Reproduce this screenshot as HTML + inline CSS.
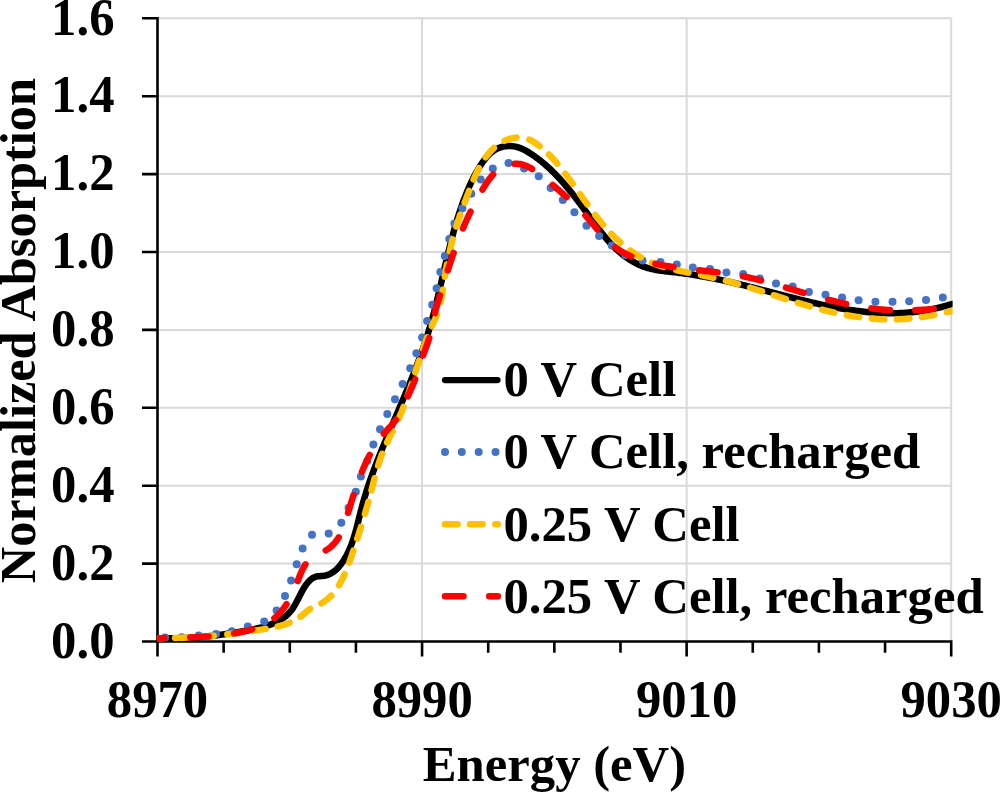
<!DOCTYPE html>
<html><head><meta charset="utf-8"><style>
html,body{margin:0;padding:0;background:#fff;width:1000px;height:792px;overflow:hidden}
svg{display:block}
</style></head><body>
<svg width="1000" height="792" viewBox="0 0 1000 792">
<path d="M157.5,563.60H951.2 M157.5,485.70H951.2 M157.5,407.80H951.2 M157.5,329.90H951.2 M157.5,252.00H951.2 M157.5,174.10H951.2 M157.5,96.20H951.2 M157.5,18.30H951.2 M422.07,18.3V641.5 M686.63,18.3V641.5 M951.20,18.3V641.5" stroke="#d9d9d9" stroke-width="2" fill="none"/>
<path d="M157.50,17.0V641.5 M142,641.50H952.5 M142,641.50H157.5 M142,563.60H157.5 M142,485.70H157.5 M142,407.80H157.5 M142,329.90H157.5 M142,252.00H157.5 M142,174.10H157.5 M142,96.20H157.5 M142,18.30H157.5 M157.50,641.5V656.5 M223.64,641.5V652.8 M289.78,641.5V652.8 M355.93,641.5V652.8 M422.07,641.5V656.5 M488.21,641.5V652.8 M554.35,641.5V652.8 M620.49,641.5V652.8 M686.63,641.5V656.5 M752.77,641.5V652.8 M818.92,641.5V652.8 M885.06,641.5V652.8 M951.20,641.5V656.5" stroke="#000" stroke-width="2.6" fill="none"/>
<defs><clipPath id="pc"><rect x="157.3" y="0" width="795.3" height="792"/></clipPath></defs>
<g clip-path="url(#pc)">
<path d="M157.41,638.07 L158.92,638.13 L160.43,638.18 L161.94,638.23 L163.44,638.27 L164.94,638.30 L166.43,638.32 L167.92,638.34 L169.41,638.35 L170.89,638.36 L172.37,638.36 L173.85,638.35 L175.32,638.33 L176.79,638.31 L178.26,638.28 L179.73,638.24 L181.19,638.20 L182.65,638.15 L184.11,638.10 L185.56,638.04 L187.02,637.97 L188.47,637.90 L189.92,637.82 L191.36,637.73 L192.81,637.64 L194.25,637.54 L195.70,637.44 L197.14,637.33 L198.58,637.21 L200.02,637.09 L201.46,636.97 L202.89,636.84 L204.33,636.70 L205.77,636.56 L207.20,636.41 L208.64,636.25 L210.07,636.10 L211.51,635.93 L212.94,635.76 L214.38,635.59 L215.81,635.41 L217.25,635.22 L218.69,635.04 L220.12,634.84 L221.56,634.64 L223.00,634.44 L224.44,634.23 L225.88,634.02 L227.33,633.80 L228.77,633.58 L230.21,633.35 L231.66,633.12 L233.11,632.88 L234.56,632.64 L236.01,632.40 L237.47,632.15 L238.92,631.90 L240.38,631.64 L241.85,631.38 L243.31,631.12 L244.78,630.85 L246.25,630.58 L247.72,630.30 L249.20,630.02 L250.67,629.73 L252.15,629.44 L253.62,629.14 L255.10,628.83 L256.57,628.51 L258.03,628.17 L259.49,627.83 L260.95,627.46 L262.39,627.09 L263.83,626.69 L265.25,626.28 L266.67,625.85 L268.07,625.40 L269.45,624.92 L270.83,624.43 L272.18,623.90 L273.52,623.35 L274.84,622.78 L276.14,622.17 L277.42,621.54 L278.67,620.88 L279.91,620.18 L281.12,619.45 L282.30,618.68 L283.45,617.88 L284.58,617.04 L285.68,616.17 L286.75,615.25 L287.79,614.29 L288.79,613.29 L289.76,612.25 L290.70,611.16 L291.60,610.03 L292.46,608.85 L293.29,607.62 L294.09,606.36 L294.86,605.07 L295.61,603.75 L296.35,602.41 L297.07,601.05 L297.77,599.68 L298.47,598.30 L299.17,596.92 L299.86,595.53 L300.56,594.16 L301.26,592.79 L301.97,591.44 L302.70,590.11 L303.44,588.80 L304.21,587.52 L305.00,586.28 L305.81,585.08 L306.66,583.92 L307.54,582.81 L308.47,581.75 L309.43,580.75 L310.44,579.82 L311.50,578.95 L312.62,578.16 L313.80,577.48 L315.06,576.93 L316.42,576.53 L317.87,576.29 L319.38,576.15 L320.93,576.05 L322.47,575.95 L323.98,575.78 L325.44,575.51 L326.85,575.14 L328.21,574.68 L329.53,574.13 L330.79,573.51 L332.02,572.80 L333.20,572.03 L334.34,571.19 L335.44,570.29 L336.50,569.33 L337.52,568.32 L338.51,567.27 L339.46,566.17 L340.38,565.04 L341.26,563.87 L342.11,562.68 L342.94,561.47 L343.73,560.25 L344.50,559.01 L345.24,557.75 L345.95,556.49 L346.64,555.21 L347.31,553.92 L347.95,552.62 L348.57,551.31 L349.17,549.99 L349.75,548.66 L350.31,547.32 L350.85,545.97 L351.38,544.62 L351.88,543.25 L352.37,541.88 L352.85,540.50 L353.31,539.11 L353.76,537.72 L354.20,536.32 L354.62,534.91 L355.03,533.50 L355.44,532.09 L355.83,530.67 L356.22,529.25 L356.60,527.82 L356.98,526.39 L357.34,524.96 L357.71,523.52 L358.07,522.09 L358.43,520.65 L358.79,519.21 L359.14,517.78 L359.50,516.34 L359.85,514.90 L360.21,513.46 L360.57,512.03 L360.94,510.59 L361.31,509.16 L361.68,507.73 L362.06,506.30 L362.45,504.88 L362.84,503.46 L363.24,502.04 L363.65,500.63 L364.06,499.21 L364.47,497.80 L364.89,496.40 L365.32,494.99 L365.75,493.59 L366.19,492.19 L366.63,490.79 L367.08,489.40 L367.53,488.00 L367.99,486.61 L368.45,485.22 L368.92,483.84 L369.39,482.45 L369.87,481.07 L370.35,479.69 L370.83,478.31 L371.32,476.94 L371.81,475.56 L372.31,474.19 L372.81,472.82 L373.31,471.45 L373.82,470.08 L374.33,468.71 L374.85,467.35 L375.37,465.98 L375.89,464.62 L376.41,463.26 L376.94,461.90 L377.47,460.54 L378.01,459.18 L378.54,457.83 L379.08,456.47 L379.62,455.12 L380.17,453.76 L380.71,452.41 L381.26,451.06 L381.81,449.71 L382.37,448.36 L382.92,447.01 L383.48,445.66 L384.04,444.31 L384.60,442.97 L385.16,441.62 L385.73,440.27 L386.29,438.93 L386.86,437.58 L387.43,436.24 L387.99,434.89 L388.56,433.54 L389.14,432.20 L389.71,430.85 L390.28,429.51 L390.85,428.16 L391.43,426.82 L392.00,425.47 L392.58,424.13 L393.15,422.78 L393.73,421.44 L394.30,420.09 L394.88,418.75 L395.45,417.40 L396.03,416.05 L396.60,414.71 L397.18,413.36 L397.76,412.01 L398.33,410.67 L398.90,409.32 L399.48,407.97 L400.05,406.62 L400.62,405.27 L401.20,403.92 L401.77,402.57 L402.34,401.22 L402.91,399.87 L403.48,398.52 L404.04,397.17 L404.61,395.82 L405.18,394.47 L405.74,393.11 L406.30,391.76 L406.86,390.40 L407.42,389.05 L407.98,387.69 L408.54,386.34 L409.09,384.98 L409.64,383.62 L410.20,382.26 L410.75,380.90 L411.29,379.54 L411.84,378.18 L412.38,376.82 L412.92,375.46 L413.46,374.10 L414.00,372.73 L414.53,371.37 L415.06,370.00 L415.59,368.64 L416.11,367.27 L416.64,365.90 L417.16,364.53 L417.68,363.16 L418.19,361.79 L418.70,360.42 L419.21,359.04 L419.71,357.67 L420.22,356.29 L420.72,354.92 L421.21,353.54 L421.70,352.16 L422.19,350.78 L422.68,349.40 L423.16,348.02 L423.63,346.63 L424.11,345.25 L424.58,343.86 L425.04,342.48 L425.50,341.09 L425.96,339.70 L426.41,338.31 L426.86,336.91 L427.31,335.52 L427.75,334.12 L428.18,332.73 L428.61,331.33 L429.04,329.93 L429.46,328.53 L429.88,327.13 L430.29,325.72 L430.70,324.32 L431.10,322.91 L431.50,321.50 L431.89,320.09 L432.29,318.68 L432.67,317.27 L433.06,315.86 L433.43,314.44 L433.81,313.03 L434.18,311.61 L434.55,310.20 L434.92,308.78 L435.28,307.36 L435.64,305.94 L436.00,304.52 L436.35,303.10 L436.71,301.67 L437.06,300.25 L437.40,298.83 L437.75,297.40 L438.09,295.98 L438.44,294.55 L438.78,293.13 L439.11,291.70 L439.45,290.27 L439.79,288.84 L440.12,287.42 L440.45,285.99 L440.79,284.56 L441.12,283.13 L441.45,281.70 L441.78,280.27 L442.11,278.84 L442.44,277.42 L442.77,275.99 L443.10,274.56 L443.43,273.13 L443.76,271.70 L444.09,270.27 L444.42,268.84 L444.75,267.41 L445.08,265.98 L445.41,264.55 L445.75,263.13 L446.08,261.70 L446.42,260.27 L446.76,258.84 L447.10,257.42 L447.44,255.99 L447.78,254.57 L448.12,253.14 L448.47,251.72 L448.82,250.29 L449.17,248.87 L449.52,247.45 L449.88,246.03 L450.23,244.61 L450.60,243.19 L450.96,241.77 L451.33,240.35 L451.70,238.94 L452.07,237.52 L452.45,236.11 L452.83,234.69 L453.21,233.28 L453.60,231.87 L453.99,230.46 L454.39,229.05 L454.79,227.64 L455.19,226.24 L455.60,224.83 L456.01,223.43 L456.43,222.03 L456.86,220.63 L457.28,219.23 L457.72,217.83 L458.16,216.44 L458.60,215.04 L459.05,213.65 L459.50,212.26 L459.96,210.87 L460.43,209.48 L460.90,208.10 L461.38,206.72 L461.87,205.33 L462.36,203.96 L462.86,202.58 L463.36,201.20 L463.87,199.83 L464.39,198.46 L464.91,197.09 L465.45,195.72 L465.99,194.36 L466.53,193.00 L467.09,191.64 L467.65,190.29 L468.23,188.93 L468.81,187.59 L469.40,186.24 L470.00,184.90 L470.62,183.57 L471.24,182.24 L471.87,180.91 L472.52,179.59 L473.17,178.28 L473.84,176.97 L474.52,175.67 L475.22,174.37 L475.92,173.09 L476.64,171.80 L477.38,170.53 L478.13,169.26 L478.89,168.00 L479.67,166.75 L480.46,165.51 L481.27,164.28 L482.09,163.05 L482.93,161.84 L483.80,160.65 L484.68,159.48 L485.59,158.33 L486.52,157.21 L487.49,156.12 L488.48,155.07 L489.50,154.05 L490.56,153.09 L491.65,152.17 L492.79,151.30 L493.96,150.48 L495.17,149.73 L496.43,149.04 L497.73,148.42 L499.09,147.86 L500.48,147.38 L501.91,146.98 L503.38,146.64 L504.86,146.38 L506.36,146.19 L507.87,146.08 L509.39,146.04 L510.89,146.08 L512.39,146.19 L513.87,146.37 L515.32,146.63 L516.75,146.97 L518.15,147.36 L519.53,147.82 L520.89,148.34 L522.23,148.91 L523.55,149.53 L524.85,150.19 L526.14,150.88 L527.41,151.61 L528.66,152.37 L529.90,153.15 L531.13,153.95 L532.35,154.76 L533.55,155.59 L534.75,156.43 L535.93,157.28 L537.11,158.15 L538.27,159.02 L539.43,159.91 L540.57,160.82 L541.71,161.73 L542.83,162.66 L543.95,163.60 L545.05,164.55 L546.15,165.51 L547.24,166.48 L548.32,167.46 L549.39,168.45 L550.45,169.45 L551.51,170.46 L552.56,171.48 L553.59,172.50 L554.62,173.54 L555.65,174.59 L556.66,175.64 L557.67,176.70 L558.67,177.77 L559.67,178.84 L560.66,179.93 L561.64,181.02 L562.61,182.11 L563.58,183.22 L564.54,184.33 L565.50,185.44 L566.45,186.56 L567.39,187.69 L568.33,188.82 L569.27,189.95 L570.20,191.09 L571.12,192.23 L572.04,193.38 L572.96,194.53 L573.87,195.69 L574.77,196.84 L575.67,198.00 L576.57,199.17 L577.47,200.33 L578.36,201.50 L579.25,202.67 L580.13,203.84 L581.01,205.01 L581.89,206.19 L582.77,207.37 L583.64,208.54 L584.52,209.72 L585.39,210.90 L586.26,212.08 L587.12,213.26 L587.99,214.44 L588.86,215.62 L589.72,216.80 L590.59,217.98 L591.45,219.16 L592.32,220.34 L593.19,221.52 L594.05,222.69 L594.92,223.87 L595.78,225.04 L596.65,226.21 L597.53,227.38 L598.40,228.55 L599.28,229.71 L600.16,230.87 L601.05,232.03 L601.94,233.18 L602.84,234.32 L603.75,235.46 L604.67,236.59 L605.59,237.71 L606.52,238.83 L607.47,239.94 L608.42,241.04 L609.39,242.13 L610.37,243.21 L611.37,244.28 L612.37,245.33 L613.40,246.38 L614.44,247.42 L615.49,248.44 L616.56,249.45 L617.65,250.44 L618.75,251.42 L619.87,252.39 L621.01,253.34 L622.16,254.27 L623.33,255.18 L624.51,256.08 L625.70,256.95 L626.91,257.81 L628.14,258.64 L629.37,259.45 L630.62,260.24 L631.89,261.00 L633.16,261.74 L634.45,262.46 L635.75,263.14 L637.06,263.81 L638.39,264.44 L639.72,265.04 L641.06,265.62 L642.42,266.16 L643.79,266.68 L645.16,267.16 L646.55,267.61 L647.94,268.03 L649.34,268.42 L650.75,268.78 L652.17,269.11 L653.59,269.42 L655.02,269.71 L656.46,269.97 L657.90,270.22 L659.35,270.45 L660.80,270.67 L662.26,270.87 L663.72,271.06 L665.18,271.24 L666.64,271.41 L668.10,271.58 L669.57,271.74 L671.04,271.90 L672.50,272.06 L673.97,272.22 L675.43,272.38 L676.90,272.55 L678.36,272.72 L679.82,272.90 L681.28,273.09 L682.73,273.27 L684.19,273.47 L685.64,273.67 L687.09,273.87 L688.54,274.08 L689.99,274.30 L691.44,274.52 L692.88,274.74 L694.33,274.97 L695.77,275.21 L697.21,275.45 L698.65,275.69 L700.09,275.94 L701.53,276.19 L702.97,276.45 L704.40,276.71 L705.84,276.97 L707.27,277.24 L708.70,277.51 L710.13,277.79 L711.57,278.07 L712.99,278.35 L714.42,278.64 L715.85,278.93 L717.28,279.23 L718.70,279.52 L720.13,279.83 L721.56,280.13 L722.98,280.44 L724.40,280.75 L725.83,281.06 L727.25,281.38 L728.67,281.70 L730.09,282.02 L731.51,282.35 L732.93,282.67 L734.35,283.01 L735.77,283.34 L737.19,283.67 L738.61,284.01 L740.03,284.35 L741.45,284.69 L742.87,285.04 L744.29,285.38 L745.70,285.73 L747.12,286.08 L748.54,286.43 L749.96,286.79 L751.38,287.14 L752.80,287.50 L754.21,287.85 L755.63,288.21 L757.05,288.57 L758.47,288.94 L759.89,289.30 L761.31,289.66 L762.73,290.03 L764.15,290.39 L765.57,290.76 L766.99,291.13 L768.41,291.50 L769.83,291.87 L771.26,292.23 L772.68,292.60 L774.10,292.97 L775.53,293.34 L776.95,293.71 L778.38,294.08 L779.80,294.45 L781.23,294.82 L782.65,295.19 L784.08,295.56 L785.51,295.93 L786.93,296.29 L788.36,296.66 L789.79,297.02 L791.22,297.39 L792.65,297.75 L794.08,298.11 L795.51,298.47 L796.94,298.83 L798.37,299.18 L799.80,299.54 L801.23,299.89 L802.66,300.24 L804.09,300.59 L805.53,300.94 L806.96,301.28 L808.39,301.62 L809.83,301.96 L811.26,302.30 L812.70,302.63 L814.13,302.96 L815.57,303.28 L817.00,303.61 L818.44,303.93 L819.87,304.25 L821.31,304.56 L822.75,304.87 L824.19,305.17 L825.62,305.48 L827.06,305.78 L828.50,306.07 L829.94,306.36 L831.38,306.64 L832.82,306.93 L834.26,307.20 L835.70,307.47 L837.14,307.74 L838.58,308.00 L840.02,308.26 L841.46,308.51 L842.90,308.76 L844.34,309.00 L845.79,309.24 L847.23,309.47 L848.67,309.69 L850.12,309.91 L851.56,310.12 L853.00,310.33 L854.45,310.53 L855.89,310.73 L857.34,310.91 L858.78,311.09 L860.23,311.27 L861.67,311.44 L863.12,311.60 L864.56,311.75 L866.01,311.90 L867.46,312.04 L868.90,312.17 L870.35,312.30 L871.80,312.42 L873.24,312.53 L874.69,312.63 L876.14,312.73 L877.59,312.81 L879.04,312.89 L880.48,312.96 L881.93,313.02 L883.38,313.08 L884.83,313.12 L886.28,313.16 L887.73,313.19 L889.18,313.21 L890.63,313.22 L892.08,313.22 L893.53,313.21 L894.98,313.19 L896.43,313.17 L897.89,313.13 L899.34,313.08 L900.79,313.03 L902.24,312.96 L903.69,312.88 L905.14,312.80 L906.60,312.70 L908.05,312.59 L909.50,312.48 L910.95,312.35 L912.41,312.21 L913.86,312.06 L915.31,311.90 L916.77,311.73 L918.22,311.55 L919.67,311.35 L921.13,311.15 L922.58,310.93 L924.04,310.70 L925.49,310.46 L926.94,310.21 L928.40,309.95 L929.85,309.67 L931.31,309.38 L932.76,309.08 L934.22,308.77 L935.67,308.45 L937.13,308.11 L938.58,307.76 L940.04,307.39 L941.49,307.02 L942.95,306.63 L944.41,306.22 L945.86,305.81 L947.32,305.38 L948.77,304.94 L950.23,304.48 L951.69,304.01" stroke="#000" stroke-width="6.5" fill="none" stroke-linecap="round" stroke-linejoin="round"/>
<g fill="#4472c4"><circle cx="165.1" cy="637.6" r="4"/><circle cx="181.6" cy="637.3" r="4"/><circle cx="198.7" cy="635.5" r="4"/><circle cx="216.0" cy="633.9" r="4"/><circle cx="231.8" cy="631.2" r="4"/><circle cx="247.8" cy="626.4" r="4"/><circle cx="264.2" cy="621.6" r="4"/><circle cx="276.6" cy="610.4" r="4"/><circle cx="285.0" cy="596.0" r="4"/><circle cx="291.1" cy="580.5" r="4"/><circle cx="296.7" cy="564.2" r="4"/><circle cx="302.6" cy="548.4" r="4"/><circle cx="312.0" cy="534.7" r="4"/><circle cx="328.7" cy="533.4" r="4"/><circle cx="341.3" cy="522.8" r="4"/><circle cx="348.6" cy="507.8" r="4"/><circle cx="355.8" cy="491.7" r="4"/><circle cx="360.9" cy="476.4" r="4"/><circle cx="367.2" cy="461.0" r="4"/><circle cx="373.4" cy="444.6" r="4"/><circle cx="380.0" cy="429.3" r="4"/><circle cx="387.3" cy="414.0" r="4"/><circle cx="395.0" cy="399.2" r="4"/><circle cx="402.7" cy="383.9" r="4"/><circle cx="410.2" cy="368.2" r="4"/><circle cx="416.4" cy="353.3" r="4"/><circle cx="422.1" cy="337.6" r="4"/><circle cx="427.1" cy="321.1" r="4"/><circle cx="432.2" cy="304.7" r="4"/><circle cx="436.6" cy="288.3" r="4"/><circle cx="440.3" cy="272.0" r="4"/><circle cx="444.8" cy="255.9" r="4"/><circle cx="449.3" cy="238.9" r="4"/><circle cx="454.4" cy="223.5" r="4"/><circle cx="462.4" cy="208.2" r="4"/><circle cx="471.3" cy="193.8" r="4"/><circle cx="480.7" cy="179.5" r="4"/><circle cx="492.8" cy="168.4" r="4"/><circle cx="508.5" cy="162.9" r="4"/><circle cx="524.1" cy="168.4" r="4"/><circle cx="538.7" cy="176.2" r="4"/><circle cx="550.7" cy="188.0" r="4"/><circle cx="562.8" cy="200.1" r="4"/><circle cx="574.4" cy="212.2" r="4"/><circle cx="586.5" cy="225.8" r="4"/><circle cx="599.1" cy="235.9" r="4"/><circle cx="611.8" cy="245.5" r="4"/><circle cx="625.4" cy="255.1" r="4"/><circle cx="642.6" cy="260.6" r="4"/><circle cx="660.5" cy="262.0" r="4"/><circle cx="676.8" cy="264.6" r="4"/><circle cx="692.8" cy="267.4" r="4"/><circle cx="710.0" cy="269.0" r="4"/><circle cx="726.4" cy="272.6" r="4"/><circle cx="743.2" cy="274.0" r="4"/><circle cx="759.8" cy="278.5" r="4"/><circle cx="776.0" cy="283.5" r="4"/><circle cx="792.7" cy="286.6" r="4"/><circle cx="808.9" cy="292.0" r="4"/><circle cx="825.5" cy="294.7" r="4"/><circle cx="842.1" cy="297.5" r="4"/><circle cx="858.6" cy="300.3" r="4"/><circle cx="875.4" cy="301.7" r="4"/><circle cx="892.5" cy="301.8" r="4"/><circle cx="909.2" cy="301.3" r="4"/><circle cx="926.0" cy="299.9" r="4"/><circle cx="942.8" cy="297.5" r="4"/></g>
<path d="M157.47,638.24 L158.96,638.23 L160.46,638.23 L161.95,638.22 L163.44,638.20 L164.94,638.18 L166.43,638.16 L167.92,638.14 L169.41,638.11 L170.90,638.08 L172.39,638.05 L173.87,638.01 L175.36,637.97 L176.85,637.92 L178.33,637.87 L179.82,637.82 L181.31,637.77 L182.79,637.71 L184.28,637.65 L185.76,637.58 L187.24,637.52 L188.73,637.45 L190.21,637.37 L191.69,637.29 L193.17,637.21 L194.65,637.13 L196.13,637.04 L197.61,636.94 L199.09,636.85 L200.57,636.75 L202.05,636.65 L203.53,636.54 L205.01,636.43 L206.49,636.32 L207.97,636.20 L209.44,636.08 L210.92,635.96 L212.40,635.83 L213.88,635.70 L215.35,635.57 L216.83,635.43 L218.30,635.29 L219.78,635.15 L221.26,635.00 L222.73,634.85 L224.21,634.69 L225.68,634.53 L227.16,634.37 L228.63,634.21 L230.11,634.04 L231.58,633.86 L233.06,633.69 L234.53,633.51 L236.00,633.32 L237.48,633.14 L238.95,632.94 L240.43,632.75 L241.90,632.55 L243.37,632.35 L244.85,632.14 L246.32,631.94 L247.79,631.72 L249.27,631.51 L250.74,631.29 L252.22,631.06 L253.69,630.83 L255.16,630.60 L256.64,630.37 L258.11,630.13 L259.59,629.89 L261.06,629.64 L262.53,629.39 L264.01,629.14 L265.48,628.88 L266.96,628.62 L268.43,628.36 L269.91,628.09 L271.38,627.81 L272.85,627.52 L274.31,627.22 L275.77,626.90 L277.22,626.57 L278.66,626.23 L280.10,625.86 L281.53,625.48 L282.95,625.07 L284.35,624.64 L285.75,624.19 L287.13,623.71 L288.50,623.19 L289.85,622.65 L291.19,622.08 L292.51,621.47 L293.81,620.83 L295.09,620.15 L296.35,619.42 L297.60,618.66 L298.82,617.86 L300.01,617.01 L301.19,616.11 L302.34,615.18 L303.49,614.22 L304.63,613.25 L305.78,612.28 L306.94,611.32 L308.13,610.39 L309.34,609.49 L310.60,608.65 L311.90,607.87 L313.24,607.15 L314.61,606.48 L316.00,605.83 L317.39,605.19 L318.78,604.55 L320.14,603.89 L321.48,603.20 L322.77,602.46 L324.02,601.68 L325.23,600.86 L326.41,599.99 L327.55,599.09 L328.65,598.15 L329.71,597.18 L330.75,596.17 L331.75,595.12 L332.71,594.05 L333.65,592.94 L334.56,591.81 L335.44,590.65 L336.29,589.47 L337.12,588.26 L337.92,587.03 L338.69,585.78 L339.45,584.51 L340.18,583.22 L340.89,581.92 L341.58,580.60 L342.25,579.27 L342.90,577.92 L343.54,576.57 L344.16,575.21 L344.76,573.85 L345.35,572.47 L345.93,571.10 L346.50,569.71 L347.06,568.33 L347.60,566.94 L348.13,565.54 L348.66,564.14 L349.18,562.74 L349.69,561.34 L350.19,559.93 L350.68,558.53 L351.17,557.12 L351.66,555.71 L352.13,554.29 L352.61,552.88 L353.08,551.47 L353.56,550.06 L354.02,548.64 L354.49,547.23 L354.96,545.82 L355.42,544.40 L355.88,542.99 L356.34,541.58 L356.80,540.16 L357.26,538.75 L357.71,537.34 L358.17,535.92 L358.62,534.51 L359.07,533.09 L359.51,531.68 L359.96,530.26 L360.40,528.85 L360.84,527.43 L361.28,526.02 L361.72,524.60 L362.15,523.18 L362.58,521.76 L363.01,520.35 L363.44,518.93 L363.87,517.51 L364.29,516.09 L364.71,514.66 L365.13,513.24 L365.54,511.82 L365.96,510.39 L366.37,508.97 L366.78,507.54 L367.18,506.12 L367.59,504.69 L367.99,503.26 L368.39,501.83 L368.78,500.40 L369.17,498.96 L369.57,497.53 L369.95,496.10 L370.34,494.66 L370.72,493.22 L371.10,491.78 L371.48,490.34 L371.85,488.90 L372.22,487.46 L372.59,486.01 L372.96,484.57 L373.33,483.12 L373.71,481.68 L374.08,480.24 L374.45,478.79 L374.83,477.35 L375.21,475.91 L375.60,474.47 L375.99,473.03 L376.39,471.60 L376.79,470.16 L377.20,468.73 L377.62,467.31 L378.04,465.88 L378.48,464.46 L378.92,463.05 L379.38,461.63 L379.84,460.23 L380.32,458.82 L380.81,457.43 L381.32,456.03 L381.84,454.65 L382.37,453.27 L382.92,451.89 L383.48,450.52 L384.05,449.16 L384.64,447.80 L385.24,446.45 L385.85,445.10 L386.47,443.75 L387.10,442.41 L387.73,441.07 L388.37,439.73 L389.02,438.40 L389.67,437.07 L390.33,435.74 L390.99,434.41 L391.65,433.08 L392.31,431.75 L392.97,430.42 L393.63,429.09 L394.29,427.76 L394.94,426.43 L395.60,425.10 L396.24,423.77 L396.88,422.43 L397.52,421.09 L398.14,419.74 L398.76,418.40 L399.37,417.05 L399.97,415.69 L400.56,414.33 L401.14,412.97 L401.71,411.60 L402.27,410.23 L402.83,408.86 L403.37,407.48 L403.91,406.11 L404.44,404.72 L404.97,403.34 L405.49,401.95 L406.00,400.56 L406.51,399.17 L407.01,397.77 L407.51,396.37 L408.00,394.97 L408.48,393.57 L408.96,392.17 L409.44,390.76 L409.91,389.35 L410.38,387.94 L410.85,386.53 L411.31,385.12 L411.77,383.71 L412.23,382.29 L412.68,380.88 L413.14,379.46 L413.59,378.05 L414.04,376.63 L414.49,375.21 L414.94,373.79 L415.39,372.37 L415.83,370.96 L416.28,369.54 L416.73,368.12 L417.18,366.70 L417.63,365.28 L418.08,363.87 L418.54,362.45 L418.99,361.03 L419.45,359.62 L419.91,358.20 L420.37,356.79 L420.84,355.38 L421.31,353.97 L421.78,352.56 L422.26,351.15 L422.74,349.74 L423.23,348.34 L423.72,346.94 L424.21,345.54 L424.72,344.14 L425.22,342.74 L425.74,341.35 L426.26,339.96 L426.78,338.57 L427.32,337.19 L427.86,335.80 L428.40,334.43 L428.96,333.05 L429.52,331.68 L430.10,330.31 L430.68,328.94 L431.27,327.58 L431.87,326.22 L432.48,324.86 L433.09,323.51 L433.72,322.16 L434.34,320.81 L434.95,319.46 L435.55,318.11 L436.13,316.74 L436.67,315.37 L437.19,313.99 L437.68,312.60 L438.15,311.20 L438.59,309.79 L439.01,308.38 L439.40,306.96 L439.78,305.53 L440.13,304.09 L440.47,302.65 L440.79,301.21 L441.09,299.75 L441.38,298.30 L441.66,296.84 L441.92,295.37 L442.18,293.90 L442.42,292.43 L442.66,290.96 L442.89,289.48 L443.11,288.00 L443.34,286.52 L443.56,285.04 L443.77,283.56 L443.99,282.08 L444.21,280.60 L444.44,279.12 L444.66,277.64 L444.90,276.17 L445.13,274.69 L445.38,273.22 L445.62,271.75 L445.88,270.28 L446.14,268.81 L446.41,267.34 L446.68,265.88 L446.95,264.41 L447.24,262.95 L447.52,261.49 L447.82,260.03 L448.12,258.58 L448.42,257.12 L448.74,255.67 L449.05,254.22 L449.38,252.77 L449.71,251.32 L450.04,249.87 L450.38,248.43 L450.73,246.99 L451.08,245.54 L451.44,244.11 L451.80,242.67 L452.17,241.23 L452.55,239.80 L452.93,238.37 L453.32,236.94 L453.71,235.51 L454.11,234.08 L454.52,232.66 L454.93,231.24 L455.35,229.81 L455.77,228.40 L456.20,226.98 L456.63,225.56 L457.08,224.15 L457.53,222.74 L457.98,221.33 L458.44,219.92 L458.91,218.51 L459.38,217.11 L459.86,215.71 L460.34,214.31 L460.84,212.91 L461.33,211.51 L461.83,210.12 L462.34,208.72 L462.85,207.33 L463.37,205.94 L463.89,204.55 L464.41,203.16 L464.94,201.77 L465.47,200.39 L466.00,199.00 L466.53,197.61 L467.07,196.23 L467.60,194.84 L468.14,193.46 L468.68,192.08 L469.21,190.69 L469.75,189.31 L470.29,187.92 L470.83,186.54 L471.37,185.16 L471.92,183.78 L472.47,182.41 L473.03,181.03 L473.60,179.67 L474.18,178.30 L474.77,176.95 L475.36,175.59 L475.97,174.25 L476.59,172.91 L477.23,171.58 L477.88,170.25 L478.55,168.94 L479.23,167.63 L479.94,166.33 L480.66,165.05 L481.40,163.77 L482.17,162.51 L482.95,161.26 L483.77,160.01 L484.60,158.79 L485.46,157.57 L486.35,156.37 L487.27,155.19 L488.21,154.03 L489.18,152.88 L490.18,151.76 L491.20,150.67 L492.25,149.60 L493.34,148.56 L494.45,147.56 L495.59,146.59 L496.75,145.65 L497.95,144.76 L499.18,143.90 L500.43,143.09 L501.72,142.32 L503.04,141.61 L504.38,140.94 L505.76,140.33 L507.15,139.77 L508.57,139.26 L510.01,138.82 L511.47,138.44 L512.93,138.12 L514.41,137.86 L515.88,137.67 L517.36,137.55 L518.84,137.51 L520.32,137.53 L521.78,137.64 L523.24,137.82 L524.67,138.08 L526.10,138.42 L527.49,138.85 L528.87,139.36 L530.22,139.96 L531.54,140.63 L532.84,141.37 L534.11,142.16 L535.37,143.00 L536.60,143.87 L537.81,144.77 L539.01,145.68 L540.18,146.62 L541.34,147.56 L542.48,148.53 L543.61,149.51 L544.72,150.50 L545.81,151.51 L546.89,152.53 L547.96,153.56 L549.01,154.61 L550.05,155.66 L551.07,156.73 L552.09,157.81 L553.09,158.90 L554.08,160.00 L555.06,161.11 L556.03,162.23 L556.99,163.36 L557.95,164.50 L558.89,165.64 L559.83,166.79 L560.75,167.95 L561.67,169.11 L562.59,170.28 L563.50,171.45 L564.40,172.63 L565.30,173.81 L566.20,174.99 L567.09,176.18 L567.97,177.37 L568.85,178.56 L569.73,179.76 L570.61,180.96 L571.48,182.16 L572.35,183.36 L573.22,184.57 L574.09,185.77 L574.95,186.98 L575.81,188.19 L576.67,189.40 L577.53,190.60 L578.39,191.81 L579.24,193.02 L580.10,194.23 L580.96,195.44 L581.81,196.65 L582.67,197.86 L583.53,199.06 L584.39,200.27 L585.24,201.47 L586.10,202.67 L586.97,203.87 L587.83,205.07 L588.69,206.26 L589.56,207.45 L590.43,208.64 L591.31,209.83 L592.18,211.01 L593.07,212.19 L593.95,213.36 L594.84,214.53 L595.74,215.70 L596.64,216.86 L597.55,218.02 L598.47,219.18 L599.39,220.33 L600.32,221.47 L601.26,222.61 L602.21,223.75 L603.17,224.88 L604.14,226.01 L605.11,227.13 L606.10,228.24 L607.09,229.35 L608.10,230.45 L609.11,231.54 L610.14,232.62 L611.17,233.70 L612.22,234.77 L613.27,235.83 L614.33,236.88 L615.41,237.92 L616.49,238.95 L617.58,239.97 L618.68,240.98 L619.79,241.98 L620.91,242.97 L622.04,243.95 L623.18,244.91 L624.33,245.86 L625.48,246.80 L626.65,247.72 L627.83,248.63 L629.01,249.53 L630.21,250.41 L631.41,251.28 L632.63,252.13 L633.85,252.97 L635.08,253.79 L636.33,254.59 L637.58,255.38 L638.84,256.14 L640.11,256.90 L641.39,257.63 L642.68,258.34 L643.98,259.04 L645.28,259.72 L646.60,260.37 L647.93,261.01 L649.26,261.63 L650.60,262.22 L651.96,262.80 L653.32,263.35 L654.69,263.89 L656.07,264.40 L657.46,264.90 L658.85,265.38 L660.25,265.85 L661.66,266.30 L663.07,266.73 L664.49,267.15 L665.92,267.56 L667.35,267.95 L668.78,268.33 L670.22,268.70 L671.67,269.06 L673.12,269.41 L674.57,269.75 L676.02,270.08 L677.48,270.40 L678.94,270.72 L680.40,271.03 L681.86,271.33 L683.32,271.63 L684.79,271.93 L686.25,272.22 L687.72,272.51 L689.18,272.80 L690.65,273.09 L692.11,273.38 L693.57,273.66 L695.03,273.95 L696.49,274.24 L697.95,274.53 L699.41,274.82 L700.86,275.11 L702.32,275.41 L703.77,275.71 L705.23,276.01 L706.68,276.31 L708.13,276.62 L709.58,276.93 L711.03,277.25 L712.47,277.57 L713.92,277.89 L715.37,278.22 L716.81,278.56 L718.25,278.91 L719.69,279.25 L721.13,279.61 L722.57,279.97 L724.01,280.33 L725.44,280.70 L726.88,281.08 L728.31,281.46 L729.74,281.84 L731.17,282.23 L732.60,282.62 L734.03,283.02 L735.46,283.42 L736.89,283.83 L738.32,284.23 L739.74,284.65 L741.17,285.06 L742.59,285.48 L744.02,285.90 L745.44,286.33 L746.86,286.76 L748.29,287.19 L749.71,287.62 L751.13,288.06 L752.55,288.49 L753.97,288.93 L755.39,289.38 L756.81,289.82 L758.23,290.26 L759.64,290.71 L761.06,291.16 L762.48,291.61 L763.90,292.06 L765.32,292.51 L766.73,292.97 L768.15,293.42 L769.57,293.87 L770.98,294.33 L772.40,294.78 L773.82,295.24 L775.23,295.69 L776.65,296.15 L778.07,296.60 L779.48,297.05 L780.90,297.51 L782.32,297.96 L783.74,298.41 L785.15,298.86 L786.57,299.31 L787.99,299.76 L789.41,300.20 L790.83,300.65 L792.25,301.09 L793.67,301.53 L795.09,301.97 L796.51,302.41 L797.93,302.84 L799.35,303.27 L800.78,303.70 L802.20,304.13 L803.62,304.55 L805.05,304.97 L806.47,305.39 L807.90,305.80 L809.33,306.21 L810.76,306.62 L812.18,307.02 L813.61,307.42 L815.05,307.82 L816.48,308.21 L817.91,308.60 L819.34,308.98 L820.78,309.35 L822.21,309.73 L823.65,310.09 L825.09,310.46 L826.53,310.81 L827.97,311.17 L829.41,311.51 L830.86,311.85 L832.30,312.19 L833.75,312.52 L835.19,312.84 L836.64,313.16 L838.09,313.47 L839.54,313.77 L841.00,314.07 L842.45,314.36 L843.91,314.64 L845.36,314.92 L846.82,315.19 L848.28,315.45 L849.74,315.70 L851.21,315.95 L852.67,316.19 L854.13,316.42 L855.60,316.65 L857.06,316.86 L858.53,317.07 L860.00,317.27 L861.47,317.46 L862.94,317.65 L864.41,317.82 L865.88,317.99 L867.36,318.15 L868.83,318.30 L870.30,318.44 L871.78,318.57 L873.26,318.69 L874.73,318.81 L876.21,318.91 L877.69,319.00 L879.17,319.09 L880.65,319.16 L882.13,319.23 L883.61,319.28 L885.09,319.33 L886.57,319.36 L888.05,319.38 L889.54,319.40 L891.02,319.40 L892.50,319.39 L893.99,319.38 L895.47,319.35 L896.95,319.31 L898.44,319.25 L899.92,319.19 L901.41,319.12 L902.89,319.04 L904.38,318.95 L905.86,318.84 L907.34,318.73 L908.83,318.61 L910.31,318.47 L911.79,318.33 L913.27,318.18 L914.75,318.01 L916.23,317.84 L917.70,317.66 L919.18,317.47 L920.65,317.27 L922.13,317.06 L923.60,316.84 L925.07,316.62 L926.54,316.38 L928.00,316.14 L929.47,315.88 L930.93,315.62 L932.39,315.35 L933.85,315.07 L935.30,314.78 L936.76,314.49 L938.21,314.19 L939.65,313.88 L941.10,313.56 L942.54,313.23 L943.98,312.90 L945.42,312.56 L946.85,312.21 L948.28,311.85 L949.71,311.49 L951.13,311.12 L952.55,310.74" stroke="#ffc000" stroke-width="6.5" fill="none" stroke-linecap="round" stroke-dasharray="4.77 12.80 12.50 13.72 12.50 13.72 12.50 13.72 12.50 12.32 12.50 12.44 12.50 12.44 12.50 12.99 12.50 12.54 12.50 12.61 12.50 13.43 12.50 12.01 12.50 13.06 12.50 12.37 12.50 14.16 12.50 12.02 12.50 12.02 12.50 12.02 12.50 12.02 12.50 13.25 12.50 13.25 12.50 13.25 12.50 13.25 12.50 12.83 12.50 12.23 12.50 12.84 12.50 12.79 12.50 13.02 12.50 12.35 12.50 12.83 12.50 12.68 12.50 13.29 12.50 12.31 12.50 12.77 12.50 12.40 12.50 12.87 12.50 12.92 12.50 12.99 12.50 12.57 12.50 12.47 12.50 12.75 12.50 12.71 12.50 12.68 12.50 12.81 12.50 12.56 12.50 12.75 12.50 12.80 12.50 1000.00"/>
<path d="M157.37,638.27 L158.84,638.22 L160.30,638.18 L161.76,638.13 L163.21,638.09 L164.65,638.06 L166.09,638.02 L167.53,637.98 L168.96,637.95 L170.39,637.91 L171.82,637.88 L173.24,637.85 L174.65,637.81 L176.07,637.78 L177.48,637.75 L178.88,637.71 L180.29,637.68 L181.69,637.64 L183.09,637.61 L184.48,637.57 L185.88,637.53 L187.27,637.48 L188.66,637.44 L190.05,637.39 L191.44,637.34 L192.82,637.29 L194.21,637.24 L195.59,637.18 L196.97,637.11 L198.35,637.05 L199.74,636.98 L201.12,636.90 L202.50,636.83 L203.88,636.74 L205.26,636.65 L206.64,636.56 L208.03,636.46 L209.41,636.36 L210.80,636.25 L212.18,636.13 L213.57,636.01 L214.96,635.88 L216.35,635.75 L217.74,635.60 L219.14,635.45 L220.53,635.30 L221.93,635.13 L223.33,634.96 L224.74,634.78 L226.15,634.59 L227.56,634.39 L228.97,634.19 L230.39,633.97 L231.81,633.75 L233.24,633.51 L234.67,633.27 L236.10,633.01 L237.54,632.75 L238.97,632.47 L240.41,632.18 L241.84,631.88 L243.28,631.57 L244.70,631.24 L246.13,630.89 L247.55,630.53 L248.96,630.16 L250.37,629.76 L251.77,629.35 L253.16,628.92 L254.53,628.47 L255.90,628.01 L257.26,627.52 L258.60,627.01 L259.92,626.48 L261.23,625.93 L262.53,625.35 L263.80,624.76 L265.06,624.13 L266.30,623.49 L267.52,622.82 L268.72,622.12 L269.89,621.39 L271.04,620.64 L272.16,619.86 L273.26,619.05 L274.33,618.21 L275.38,617.35 L276.40,616.45 L277.39,615.53 L278.36,614.58 L279.30,613.60 L280.21,612.60 L281.11,611.57 L281.98,610.52 L282.83,609.44 L283.66,608.35 L284.47,607.23 L285.26,606.09 L286.03,604.93 L286.78,603.76 L287.51,602.56 L288.23,601.35 L288.93,600.13 L289.61,598.88 L290.28,597.63 L290.94,596.36 L291.58,595.08 L292.21,593.78 L292.83,592.47 L293.44,591.16 L294.03,589.83 L294.62,588.50 L295.19,587.16 L295.76,585.81 L296.32,584.45 L296.88,583.09 L297.43,581.73 L297.97,580.36 L298.51,578.99 L299.05,577.63 L299.59,576.27 L300.14,574.92 L300.70,573.58 L301.27,572.25 L301.86,570.95 L302.47,569.66 L303.10,568.40 L303.76,567.17 L304.44,565.97 L305.16,564.80 L305.91,563.67 L306.70,562.58 L307.54,561.53 L308.41,560.53 L309.34,559.57 L310.31,558.68 L311.34,557.83 L312.43,557.05 L313.57,556.32 L314.76,555.64 L315.99,555.01 L317.26,554.40 L318.54,553.81 L319.84,553.24 L321.14,552.66 L322.43,552.07 L323.71,551.45 L324.96,550.81 L326.18,550.12 L327.35,549.39 L328.49,548.62 L329.60,547.80 L330.66,546.94 L331.69,546.04 L332.68,545.10 L333.63,544.13 L334.55,543.11 L335.43,542.07 L336.27,540.99 L337.08,539.88 L337.86,538.74 L338.60,537.57 L339.30,536.37 L339.97,535.15 L340.62,533.91 L341.23,532.64 L341.82,531.36 L342.38,530.05 L342.92,528.73 L343.43,527.40 L343.93,526.05 L344.41,524.69 L344.88,523.32 L345.33,521.94 L345.77,520.56 L346.20,519.17 L346.62,517.78 L347.04,516.39 L347.46,515.00 L347.87,513.61 L348.28,512.23 L348.69,510.85 L349.10,509.48 L349.52,508.11 L349.93,506.74 L350.34,505.38 L350.76,504.02 L351.18,502.66 L351.60,501.31 L352.02,499.96 L352.44,498.62 L352.87,497.28 L353.30,495.94 L353.73,494.60 L354.17,493.27 L354.61,491.94 L355.05,490.61 L355.50,489.28 L355.96,487.96 L356.41,486.64 L356.87,485.32 L357.34,484.00 L357.81,482.68 L358.29,481.37 L358.78,480.06 L359.27,478.75 L359.76,477.44 L360.27,476.13 L360.78,474.83 L361.30,473.52 L361.82,472.22 L362.35,470.91 L362.89,469.61 L363.44,468.31 L364.00,467.01 L364.57,465.72 L365.14,464.43 L365.73,463.14 L366.32,461.85 L366.93,460.57 L367.54,459.29 L368.17,458.02 L368.81,456.75 L369.45,455.49 L370.11,454.24 L370.79,452.99 L371.47,451.75 L372.17,450.52 L372.88,449.29 L373.60,448.07 L374.34,446.87 L375.09,445.67 L375.85,444.48 L376.63,443.30 L377.42,442.13 L378.23,440.97 L379.06,439.82 L379.89,438.68 L380.75,437.56 L381.62,436.45 L382.51,435.35 L383.41,434.26 L384.33,433.19 L385.27,432.13 L386.21,431.08 L387.16,430.03 L388.11,428.98 L389.07,427.94 L390.02,426.89 L390.96,425.84 L391.89,424.79 L392.80,423.72 L393.70,422.65 L394.58,421.56 L395.44,420.45 L396.26,419.32 L397.06,418.18 L397.82,417.01 L398.56,415.82 L399.27,414.62 L399.96,413.40 L400.62,412.16 L401.27,410.91 L401.90,409.65 L402.51,408.38 L403.11,407.10 L403.69,405.81 L404.27,404.51 L404.84,403.21 L405.41,401.91 L405.97,400.60 L406.54,399.30 L407.10,397.99 L407.67,396.69 L408.24,395.39 L408.82,394.09 L409.40,392.80 L409.98,391.51 L410.56,390.22 L411.14,388.93 L411.72,387.64 L412.29,386.34 L412.85,385.05 L413.41,383.75 L413.95,382.46 L414.48,381.15 L415.00,379.84 L415.51,378.53 L416.00,377.21 L416.47,375.89 L416.94,374.56 L417.39,373.23 L417.83,371.89 L418.27,370.55 L418.70,369.21 L419.12,367.87 L419.55,366.52 L419.97,365.18 L420.39,363.83 L420.82,362.49 L421.24,361.14 L421.68,359.80 L422.12,358.46 L422.56,357.12 L423.02,355.79 L423.49,354.46 L423.97,353.13 L424.45,351.81 L424.94,350.48 L425.43,349.16 L425.91,347.83 L426.40,346.51 L426.88,345.18 L427.35,343.86 L427.81,342.52 L428.26,341.19 L428.69,339.85 L429.11,338.51 L429.50,337.16 L429.88,335.80 L430.24,334.44 L430.58,333.07 L430.91,331.70 L431.22,330.32 L431.52,328.95 L431.82,327.57 L432.11,326.18 L432.39,324.80 L432.67,323.42 L432.95,322.03 L433.23,320.65 L433.52,319.27 L433.81,317.89 L434.11,316.52 L434.41,315.14 L434.73,313.78 L435.06,312.41 L435.41,311.05 L435.76,309.70 L436.12,308.34 L436.50,306.99 L436.88,305.64 L437.26,304.30 L437.66,302.95 L438.06,301.61 L438.46,300.27 L438.87,298.93 L439.28,297.58 L439.70,296.24 L440.11,294.90 L440.53,293.56 L440.94,292.21 L441.36,290.86 L441.78,289.52 L442.19,288.17 L442.61,286.82 L443.03,285.47 L443.45,284.13 L443.87,282.78 L444.29,281.43 L444.72,280.08 L445.14,278.72 L445.57,277.37 L445.99,276.02 L446.42,274.67 L446.85,273.32 L447.29,271.97 L447.72,270.62 L448.15,269.27 L448.59,267.93 L449.03,266.58 L449.47,265.23 L449.92,263.88 L450.36,262.54 L450.81,261.19 L451.26,259.85 L451.72,258.51 L452.18,257.17 L452.63,255.83 L453.10,254.49 L453.56,253.15 L454.03,251.82 L454.50,250.48 L454.98,249.15 L455.46,247.82 L455.94,246.49 L456.42,245.17 L456.91,243.85 L457.40,242.52 L457.90,241.21 L458.40,239.89 L458.90,238.57 L459.41,237.26 L459.92,235.95 L460.44,234.65 L460.96,233.35 L461.49,232.05 L462.02,230.75 L462.55,229.46 L463.09,228.16 L463.64,226.88 L464.19,225.59 L464.74,224.31 L465.30,223.03 L465.86,221.76 L466.43,220.49 L467.01,219.22 L467.59,217.95 L468.18,216.68 L468.77,215.42 L469.37,214.16 L469.97,212.90 L470.58,211.64 L471.20,210.38 L471.82,209.13 L472.45,207.88 L473.09,206.62 L473.73,205.37 L474.38,204.12 L475.04,202.87 L475.70,201.63 L476.37,200.38 L477.05,199.13 L477.74,197.88 L478.43,196.64 L479.13,195.39 L479.84,194.15 L480.56,192.90 L481.28,191.65 L482.01,190.41 L482.75,189.16 L483.50,187.91 L484.26,186.67 L485.03,185.43 L485.82,184.20 L486.61,182.98 L487.43,181.78 L488.26,180.59 L489.10,179.43 L489.97,178.28 L490.86,177.16 L491.76,176.07 L492.70,175.00 L493.65,173.97 L494.63,172.97 L495.64,172.01 L496.68,171.09 L497.74,170.22 L498.84,169.39 L499.96,168.61 L501.13,167.87 L502.32,167.20 L503.55,166.58 L504.82,166.01 L506.11,165.51 L507.44,165.07 L508.78,164.69 L510.15,164.37 L511.53,164.12 L512.92,163.93 L514.32,163.81 L515.72,163.77 L517.12,163.79 L518.52,163.89 L519.91,164.05 L521.29,164.30 L522.66,164.62 L524.00,165.01 L525.33,165.48 L526.63,166.01 L527.92,166.60 L529.19,167.25 L530.44,167.93 L531.68,168.65 L532.90,169.40 L534.11,170.17 L535.30,170.97 L536.48,171.78 L537.64,172.61 L538.79,173.46 L539.93,174.32 L541.06,175.19 L542.18,176.08 L543.30,176.97 L544.40,177.88 L545.50,178.79 L546.59,179.71 L547.67,180.63 L548.76,181.55 L549.83,182.48 L550.91,183.41 L551.98,184.33 L553.05,185.26 L554.12,186.18 L555.18,187.09 L556.25,188.01 L557.31,188.93 L558.38,189.84 L559.44,190.76 L560.49,191.67 L561.55,192.59 L562.60,193.50 L563.65,194.42 L564.70,195.34 L565.74,196.26 L566.78,197.19 L567.82,198.12 L568.85,199.05 L569.88,199.98 L570.91,200.92 L571.93,201.87 L572.95,202.82 L573.96,203.78 L574.97,204.74 L575.98,205.71 L576.98,206.68 L577.98,207.67 L578.97,208.66 L579.96,209.66 L580.94,210.67 L581.91,211.69 L582.88,212.72 L583.85,213.75 L584.81,214.80 L585.76,215.86 L586.71,216.93 L587.65,218.01 L588.59,219.10 L589.53,220.19 L590.46,221.29 L591.39,222.39 L592.32,223.50 L593.25,224.60 L594.19,225.71 L595.12,226.82 L596.05,227.93 L596.99,229.03 L597.93,230.13 L598.87,231.22 L599.82,232.31 L600.77,233.39 L601.73,234.46 L602.69,235.52 L603.66,236.58 L604.64,237.61 L605.63,238.64 L606.63,239.65 L607.64,240.65 L608.66,241.62 L609.69,242.58 L610.73,243.52 L611.79,244.44 L612.86,245.34 L613.94,246.22 L615.04,247.07 L616.15,247.90 L617.28,248.70 L618.43,249.48 L619.58,250.24 L620.75,250.98 L621.94,251.69 L623.13,252.38 L624.34,253.05 L625.56,253.70 L626.80,254.33 L628.04,254.94 L629.30,255.53 L630.56,256.11 L631.84,256.66 L633.12,257.19 L634.42,257.71 L635.72,258.21 L637.03,258.70 L638.35,259.17 L639.68,259.62 L641.02,260.06 L642.36,260.48 L643.71,260.89 L645.07,261.28 L646.43,261.66 L647.80,262.03 L649.17,262.39 L650.54,262.73 L651.93,263.07 L653.31,263.39 L654.70,263.70 L656.09,264.00 L657.49,264.29 L658.88,264.57 L660.28,264.84 L661.68,265.11 L663.08,265.37 L664.49,265.62 L665.89,265.86 L667.29,266.09 L668.70,266.32 L670.10,266.55 L671.51,266.76 L672.91,266.98 L674.31,267.18 L675.72,267.38 L677.12,267.58 L678.53,267.77 L679.93,267.96 L681.34,268.15 L682.74,268.33 L684.15,268.50 L685.55,268.68 L686.96,268.85 L688.36,269.01 L689.76,269.18 L691.17,269.34 L692.57,269.51 L693.97,269.67 L695.38,269.82 L696.78,269.98 L698.18,270.14 L699.59,270.29 L700.99,270.45 L702.39,270.61 L703.79,270.76 L705.19,270.92 L706.59,271.08 L707.99,271.23 L709.39,271.39 L710.79,271.55 L712.19,271.72 L713.58,271.88 L714.98,272.05 L716.37,272.22 L717.77,272.39 L719.16,272.57 L720.56,272.75 L721.95,272.93 L723.34,273.12 L724.73,273.31 L726.12,273.50 L727.51,273.70 L728.90,273.91 L730.29,274.12 L731.68,274.33 L733.06,274.55 L734.45,274.78 L735.83,275.01 L737.21,275.25 L738.60,275.50 L739.98,275.75 L741.36,276.01 L742.73,276.28 L744.11,276.56 L745.49,276.84 L746.86,277.13 L748.23,277.43 L749.61,277.73 L750.98,278.05 L752.35,278.36 L753.72,278.68 L755.09,279.01 L756.45,279.35 L757.82,279.69 L759.19,280.03 L760.55,280.38 L761.92,280.74 L763.28,281.10 L764.64,281.46 L766.01,281.83 L767.37,282.20 L768.73,282.58 L770.09,282.96 L771.45,283.34 L772.81,283.73 L774.17,284.12 L775.53,284.51 L776.89,284.90 L778.25,285.30 L779.61,285.70 L780.96,286.10 L782.32,286.50 L783.68,286.91 L785.04,287.31 L786.39,287.72 L787.75,288.13 L789.11,288.53 L790.47,288.94 L791.82,289.35 L793.18,289.76 L794.54,290.17 L795.90,290.58 L797.25,290.98 L798.61,291.39 L799.97,291.80 L801.33,292.20 L802.69,292.61 L804.05,293.01 L805.41,293.41 L806.77,293.81 L808.13,294.20 L809.49,294.60 L810.85,294.99 L812.21,295.38 L813.57,295.77 L814.93,296.15 L816.30,296.53 L817.66,296.91 L819.02,297.29 L820.39,297.66 L821.75,298.03 L823.12,298.40 L824.48,298.76 L825.85,299.12 L827.22,299.48 L828.59,299.83 L829.95,300.18 L831.32,300.52 L832.69,300.86 L834.06,301.20 L835.43,301.53 L836.81,301.86 L838.18,302.19 L839.55,302.51 L840.92,302.82 L842.30,303.13 L843.67,303.44 L845.05,303.74 L846.43,304.03 L847.80,304.32 L849.18,304.61 L850.56,304.89 L851.94,305.16 L853.32,305.43 L854.70,305.69 L856.09,305.95 L857.47,306.20 L858.85,306.44 L860.24,306.68 L861.63,306.92 L863.01,307.14 L864.40,307.36 L865.79,307.57 L867.18,307.78 L868.57,307.98 L869.96,308.17 L871.35,308.36 L872.75,308.54 L874.14,308.71 L875.54,308.88 L876.93,309.03 L878.33,309.18 L879.73,309.32 L881.13,309.46 L882.53,309.59 L883.93,309.70 L885.34,309.81 L886.74,309.92 L888.15,310.01 L889.55,310.10 L890.96,310.17 L892.37,310.24 L893.78,310.30 L895.19,310.35 L896.60,310.40 L898.02,310.43 L899.43,310.46 L900.85,310.48 L902.26,310.49 L903.68,310.49 L905.09,310.49 L906.51,310.47 L907.93,310.45 L909.34,310.43 L910.76,310.39 L912.18,310.35 L913.59,310.30 L915.01,310.24 L916.43,310.18 L917.84,310.10 L919.26,310.03 L920.67,309.94 L922.09,309.85 L923.50,309.75 L924.91,309.65 L926.33,309.53 L927.74,309.42 L929.15,309.29 L930.55,309.16 L931.96,309.02 L933.37,308.88 L934.77,308.73 L936.18,308.58 L937.58,308.42 L938.98,308.25 L940.37,308.08 L941.77,307.91 L943.16,307.72 L944.56,307.54 L945.95,307.34 L947.33,307.15 L948.72,306.94 L950.10,306.74 L951.48,306.52" stroke="#ff0000" stroke-width="6.5" fill="none" stroke-linecap="round" stroke-dasharray="7.02 25.80 18.50 25.66 18.50 25.00 18.50 25.82 18.50 25.12 18.50 26.37 18.50 24.83 18.50 25.54 18.50 26.33 18.50 25.16 18.50 25.52 18.50 26.07 18.50 26.20 18.50 25.04 18.50 24.75 18.50 26.08 18.50 26.29 18.50 25.23 18.50 25.06 18.50 25.90 18.50 25.73 18.50 25.97 18.50 25.44 18.50 25.64 18.50 25.41 18.50 25.80 18.50 1000.00"/>
</g>
<text transform="translate(114.50,657.70) scale(1,1.040)" text-anchor="end" style="font-family:'Liberation Serif',serif;font-weight:bold;font-size:50.70px">0.0</text>
<text transform="translate(114.50,579.80) scale(1,1.040)" text-anchor="end" style="font-family:'Liberation Serif',serif;font-weight:bold;font-size:50.70px">0.2</text>
<text transform="translate(114.50,501.90) scale(1,1.040)" text-anchor="end" style="font-family:'Liberation Serif',serif;font-weight:bold;font-size:50.70px">0.4</text>
<text transform="translate(114.50,424.00) scale(1,1.040)" text-anchor="end" style="font-family:'Liberation Serif',serif;font-weight:bold;font-size:50.70px">0.6</text>
<text transform="translate(114.50,346.10) scale(1,1.040)" text-anchor="end" style="font-family:'Liberation Serif',serif;font-weight:bold;font-size:50.70px">0.8</text>
<text transform="translate(114.50,268.20) scale(1,1.040)" text-anchor="end" style="font-family:'Liberation Serif',serif;font-weight:bold;font-size:50.70px">1.0</text>
<text transform="translate(114.50,190.30) scale(1,1.040)" text-anchor="end" style="font-family:'Liberation Serif',serif;font-weight:bold;font-size:50.70px">1.2</text>
<text transform="translate(114.50,112.40) scale(1,1.040)" text-anchor="end" style="font-family:'Liberation Serif',serif;font-weight:bold;font-size:50.70px">1.4</text>
<text transform="translate(114.50,34.50) scale(1,1.040)" text-anchor="end" style="font-family:'Liberation Serif',serif;font-weight:bold;font-size:50.70px">1.6</text>
<text transform="translate(157.50,717.20) scale(1,1.040)" text-anchor="middle" style="font-family:'Liberation Serif',serif;font-weight:bold;font-size:50.70px">8970</text>
<text transform="translate(422.07,717.20) scale(1,1.040)" text-anchor="middle" style="font-family:'Liberation Serif',serif;font-weight:bold;font-size:50.70px">8990</text>
<text transform="translate(686.63,717.20) scale(1,1.040)" text-anchor="middle" style="font-family:'Liberation Serif',serif;font-weight:bold;font-size:50.70px">9010</text>
<text transform="translate(951.20,717.20) scale(1,1.040)" text-anchor="middle" style="font-family:'Liberation Serif',serif;font-weight:bold;font-size:50.70px">9030</text>
<text transform="translate(554.40,780.80) scale(1,1.015)" text-anchor="middle" style="font-family:'Liberation Serif',serif;font-weight:bold;font-size:50.70px">Energy (eV)</text>
<text transform="translate(34.6,330.6) rotate(-90) scale(1,1.015)" text-anchor="middle" style="font-family:'Liberation Serif',serif;font-weight:bold;font-size:50.4px">Normalized Absorption</text>
<path d="M445,380.1H497.5" stroke="#000" stroke-width="6.3" stroke-linecap="round"/>
<circle cx="445.0" cy="452.1" r="4" fill="#4472c4"/>
<circle cx="461.8" cy="452.1" r="4" fill="#4472c4"/>
<circle cx="478.7" cy="452.1" r="4" fill="#4472c4"/>
<circle cx="495.5" cy="452.1" r="4" fill="#4472c4"/>
<path d="M445,524.2H457.5M470,524.2H482.7M495.3,524.2H497.8" stroke="#ffc000" stroke-width="6.5" stroke-linecap="round"/>
<path d="M445,596.2H463.5M489.2,596.2H497.8" stroke="#ff0000" stroke-width="6.5" stroke-linecap="round"/>
<text transform="translate(503.50,396.40) scale(1,1.000)" text-anchor="start" style="font-family:'Liberation Serif',serif;font-weight:bold;font-size:50.70px">0 V Cell</text>
<text transform="translate(503.50,468.40) scale(1,1.000)" text-anchor="start" style="font-family:'Liberation Serif',serif;font-weight:bold;font-size:50.70px">0 V Cell, recharged</text>
<text transform="translate(503.50,540.50) scale(1,1.000)" text-anchor="start" style="font-family:'Liberation Serif',serif;font-weight:bold;font-size:50.70px">0.25 V Cell</text>
<text transform="translate(503.50,612.50) scale(1,1.000)" text-anchor="start" style="font-family:'Liberation Serif',serif;font-weight:bold;font-size:50.70px">0.25 V Cell, recharged</text>
</svg>
</body></html>
